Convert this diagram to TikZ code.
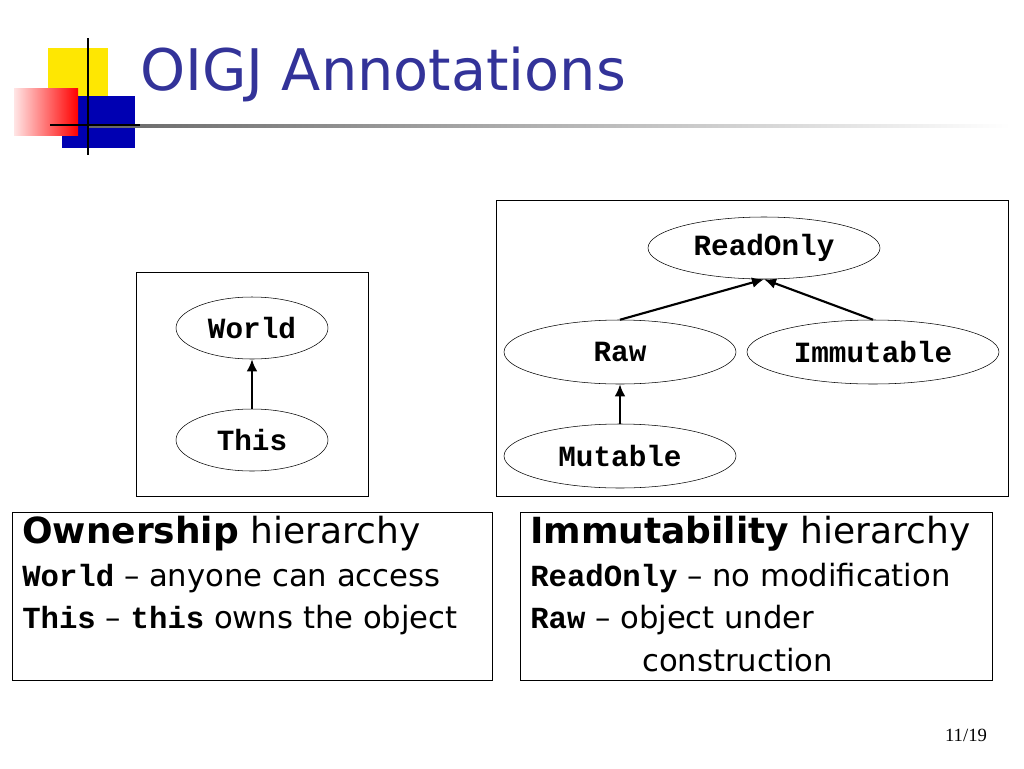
\documentclass[tikz,border=0pt]{standalone}
\usepackage{fontspec}
\usetikzlibrary{shapes.geometric,arrows.meta}
\setmainfont{DejaVu Sans}
\setmonofont{Liberation Mono}
\newfontfamily\pagefont{Liberation Serif}
\begin{document}
\begin{tikzpicture}[x=0.75pt,y=0.75pt,yscale=-1,xscale=1,
  kind/.style={draw,ellipse,minimum width=114pt,minimum height=46.5pt,inner sep=0,font=\fontsize{22}{24}\selectfont\ttfamily\bfseries},
  up/.style={-{Latex[length=9pt,width=8pt]},line width=1.6pt},
  txt/.style={anchor=north west,inner sep=0,align=left,font=\fontsize{23}{32}\selectfont}]
\useasboundingbox (0,0) rectangle (1024,768);
\fill[white] (0,0) rectangle (1024,768);

%Logo
\fill[yellow!90!orange] (48,48) rectangle (108,100);
\fill[blue!70!black] (62,96) rectangle (135,148);
\shade[left color=red!10,right color=red] (14,88) rectangle (78,135);
\shade[left color=black!60,right color=white] (88,124) rectangle (1010,127);
\draw[line width=2pt] (88,38) -- (88,155);
\draw[line width=2pt] (50,125) -- (140,125);
\node[anchor=west,inner sep=0,text={rgb,255:red,51;green,51;blue,153},font=\fontsize{43}{50}\selectfont] (title) at (140,74) {OIGJ Annotations};

%Ownership
\draw (136,272) rectangle (368,496);
\node[kind] (world) at (252,328) {World};
\node[kind] (this) at (252,440) {This};
\draw[up] (this) -- (world);

%Immutability
\draw (496,200) rectangle (1008,496);
\node[kind,minimum width=174pt] (ro) at (764,248) {ReadOnly};
\node[kind,minimum width=174pt,minimum height=48pt] (raw) at (620,352) {Raw};
\node[kind,minimum width=189pt,minimum height=48pt] (imm) at (873,352) {Immutable};
\node[kind,minimum width=174pt,minimum height=48pt] (mut) at (620,456) {Mutable};
\draw[up] (raw.north) -- (ro.south);
\draw[up] (imm.north) -- (ro.south);
\draw[up] (mut) -- (raw);

%Legends
\draw (12,512) rectangle (492,680);
\draw (520,512) rectangle (992,680);
\node[txt] (own) at (22,516) {{\fontsize{27}{32}\selectfont\textbf{Ownership} hierarchy}\\
\texttt{\textbf{World}} -- anyone can access\\
\texttt{\textbf{This}} -- \texttt{\textbf{this}} owns the object};
\node[txt] (imt) at (530,516) {{\fontsize{27}{32}\selectfont\textbf{Immutability} hierarchy}\\
\texttt{\textbf{ReadOnly}} -- no modification\\
\texttt{\textbf{Raw}} -- object under\\
\hspace*{84pt}construction};

\node[font=\pagefont\fontsize{14}{16}\selectfont] (page) at (966,735) {11/19};
\end{tikzpicture}
\end{document}
